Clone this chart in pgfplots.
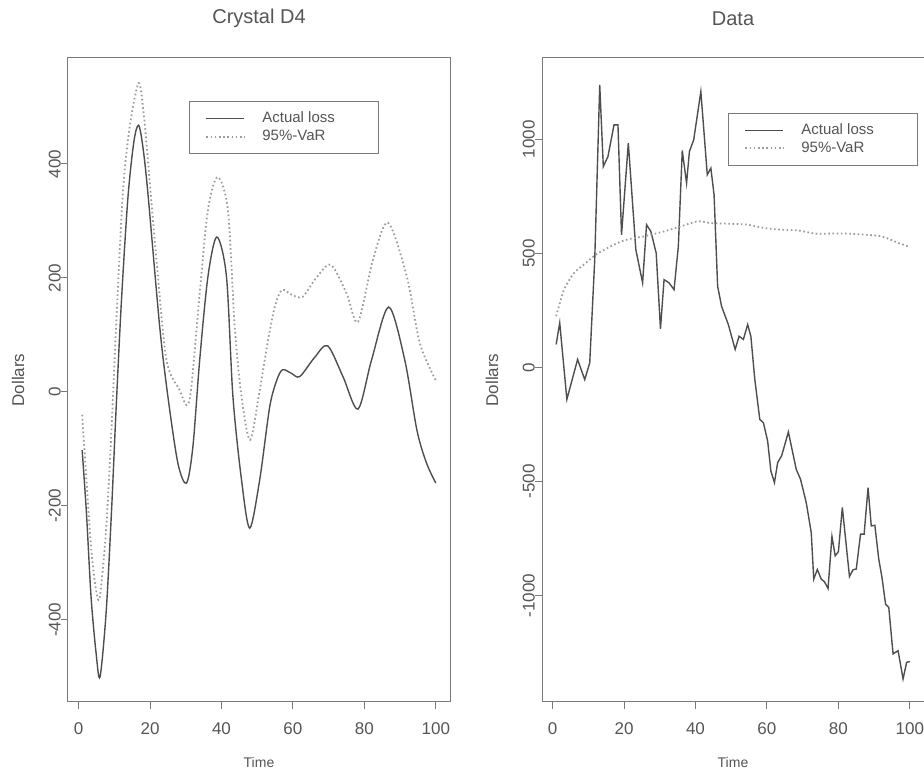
\documentclass[border=0pt]{standalone}
\usepackage{pgfplots}
\pgfplotsset{compat=1.18}
\usepackage{fontspec}
\setmainfont{Liberation Sans}
\definecolor{txt}{HTML}{555555}
\definecolor{solidc}{HTML}{4E4E4E}
\definecolor{dotc}{HTML}{9C9C9C}
\definecolor{boxc}{HTML}{7A7A7A}
\pgfplotsset{rstyle/.style={
  scale only axis, width=382pt, height=644pt,
  xmin=-2.96, xmax=103.96,
  axis line style={boxc, line width=1pt},
  tick style={boxc, line width=1pt},
  tick align=outside, major tick length=7pt,
  tick pos=left,
  xtick={0,20,40,60,80,100}, xticklabels={0,20,40,60,80,100},
  ticklabel style={font=\fontsize{17}{17}\selectfont, text=txt},
  xticklabel style={anchor=north, inner sep=0pt, yshift=-13pt},
  yticklabel style={rotate=90, anchor=south, inner sep=0pt},
  title style={font=\fontsize{20}{20}\selectfont, text=txt, at={(axis description cs:0.5,1.052)}, anchor=center},
  xlabel style={font=\fontsize{14}{14}\selectfont, text=txt, at={(axis description cs:0.5,-0.0947)}, anchor=center},
  ylabel style={font=\fontsize{17}{17}\selectfont, text=txt, at={(axis description cs:-0.131,0.5)}, anchor=center},
  xlabel={Time}, ylabel={Dollars},
  legend cell align=left,
  legend image code/.code={\draw[##1] (0pt,0pt) -- (38pt,0pt);},
  legend style={anchor=north west, draw=boxc, line width=1pt, fill=white,
    inner xsep=16pt, inner ysep=9pt, row sep=2pt, column sep=15pt,
    nodes={font=\fontsize{15}{15}\selectfont, text=txt, text height=10pt, text depth=2pt, inner sep=2pt}},
}, solidline/.style={solidc, line width=1.4pt},
dotline/.style={dotc, line width=1.8pt, dash pattern=on 1.6pt off 2.6pt}}
\begin{document}
\begin{tikzpicture}
\useasboundingbox (-68pt,-71pt) rectangle (856pt,702pt);
\begin{axis}[rstyle, title={Crystal D4},
  ymin=-544, ymax=586,
  ytick={-400,-200,0,200,400}, yticklabels={-400,-200,0,200,400},
  legend style={at={(rel axis cs:0.317,0.933)}}]
\addplot[solidline, smooth, tension=0.5] coordinates {
(1,-102)(2.2,-212)(3.5,-360)(4.9,-458)(6,-500)(7.7,-388)(9.2,-212)(10.5,-30)(12,160)(13.8,340)(15.5,440)(16.8,468)(18,430)(19.4,349)(22.7,115)(25,-8)(27.8,-125)(30.2,-160)(32,-96)(33.9,56)(36.2,202)(38.7,272)(41.4,202)(43.2,-8)(45.6,-154)(47.9,-239)(50.7,-154)(53.5,-26)(55.5,21)(57.1,39)(59.5,33)(61.9,27)(66,60)(69.7,81)(74,27)(78.2,-30)(82,56)(86.8,149)(91.3,56)(94.7,-67)(97.4,-125)(100,-160)};
\addlegendentry{\makebox[98pt][l]{Actual loss}}
\addplot[dotline, smooth, tension=0.5] coordinates {
(1,-40)(2.2,-154)(3.5,-272)(4.7,-340)(5.9,-361)(7.7,-242)(9.2,-67)(10.5,115)(12.4,349)(14.3,465)(16.8,542)(18.2,490)(19.4,407)(21.8,232)(24.6,56)(28.3,3)(30.2,-23)(31.5,5)(33.9,173)(36.2,319)(38.9,377)(41.8,319)(43.7,115)(45.6,-8)(48,-84)(50.7,3)(52.9,86)(54.9,149)(56.9,179)(59.8,170)(62.7,167)(66.5,200)(70.6,223)(75,173)(78.2,123)(82.4,232)(86.6,297)(91.9,202)(95.5,86)(100,20)};
\addlegendentry{\makebox[98pt][l]{95\%-VaR}}
\end{axis}
\begin{axis}[rstyle, xshift=474pt, title={Data},
  ymin=-1467, ymax=1357,
  ytick={-1000,-500,0,500,1000}, yticklabels={-1000,-500,0,500,1000},
  legend style={at={(rel axis cs:0.487,0.915)}}]
\addplot[solidline, sharp plot] coordinates {
(1,101)(2,196)(4,-140)(7,35)(9,-53)(10.4,20)(11.8,473)(13.2,1239)(14.2,881)(15.5,925)(17.2,1064)(18.3,1064)(19.3,582)(21.2,984)(23.3,517)(25.2,371)(26.3,626)(27.5,597)(29,502)(30.2,169)(31.2,385)(32.6,371)(34,341)(35.2,531)(36.3,952)(37.5,808)(38.3,947)(39.5,998)(41.5,1210)(43.3,845)(44.3,874)(45.2,757)(46.2,356)(47.3,268)(49.2,188)(51.1,79)(52.2,137)(53.4,123)(54.6,188)(55.5,137)(56.6,-52)(58,-228)(59,-242)(60.2,-323)(61.1,-454)(62.1,-505)(63,-417)(64.1,-388)(66,-283)(68.2,-447)(69.4,-490)(71,-593)(72.4,-724)(73.1,-928)(74.1,-886)(75.2,-928)(76.1,-940)(77.1,-969)(78.2,-741)(79.1,-826)(80,-808)(81.1,-614)(83.1,-917)(84.1,-887)(85,-884)(86.2,-731)(87.2,-731)(88.3,-527)(89.2,-695)(90.2,-692)(91.3,-841)(92.2,-921)(93.2,-1038)(94.1,-1052)(95.3,-1256)(96.7,-1242)(98.1,-1366)(99.1,-1293)(100,-1290)};
\addlegendentry{\makebox[98pt][l]{Actual loss}}
\addplot[dotline, smooth, tension=0.4] coordinates {
(1,225)(3.2,341)(6,414)(9.3,458)(12.1,495)(15.4,524)(18.2,546)(21.4,563)(25.7,575)(31.3,597)(36,619)(40.6,641)(44.4,633)(50,630)(54.7,626)(59.4,611)(64,604)(68.7,601)(73.4,587)(78.1,587)(82.8,587)(87.5,582)(92.1,575)(96.8,546)(100,528)};
\addlegendentry{\makebox[98pt][l]{95\%-VaR}}
\end{axis}
\end{tikzpicture}
\end{document}
